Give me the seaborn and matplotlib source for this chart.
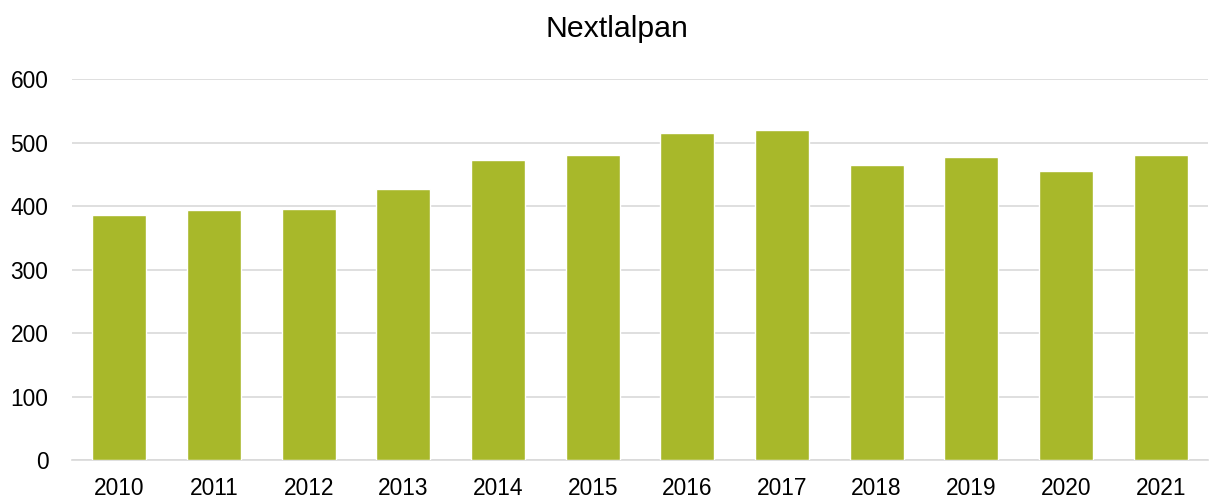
import matplotlib
matplotlib.use("Agg")
import matplotlib.pyplot as plt
import seaborn as sns
import pandas as pd

years = ["2010", "2011", "2012", "2013", "2014", "2015", "2016", "2017", "2018", "2019", "2020", "2021"]
values = [386, 393, 395, 427, 473, 480, 515, 520, 465, 477, 455, 480]
yticks = [0, 100, 200, 300, 400, 500, 600]
title = "Nextlalpan"

sns.set_theme(style="white")
plt.rcParams['font.family'] = ['Liberation Sans', 'DejaVu Sans']

df = pd.DataFrame({"year": years, "value": values})

fig = plt.figure(figsize=(12.11, 5.01), dpi=100)
ax = fig.add_axes([0.0595, 0.0818, 0.938, 0.7605])
sns.barplot(data=df, x="year", y="value", color="#a8b82a", saturation=1,
            width=0.57, ax=ax, zorder=3)
ax.set_xlim(-0.5, len(years) - 0.5)
ax.set_ylim(0, 600)
ax.set_yticks(yticks)
ax.set_yticklabels([str(t) for t in yticks])
ax.yaxis.grid(True, color="#d9d9d9", linewidth=1.2, zorder=0)
ax.set_axisbelow(True)
for s in ["top", "right", "left"]:
    ax.spines[s].set_visible(False)
ax.spines["bottom"].set_color("#d9d9d9")
ax.spines["bottom"].set_linewidth(1.2)
ax.tick_params(axis="both", length=0, labelsize=16.4, colors="#000000")
ax.tick_params(axis="y", pad=17)
ax.tick_params(axis="x", pad=12)
ax.set_xlabel("")
ax.set_ylabel("")
fig.text(0.5095, 0.926, title, ha="center", va="baseline", fontsize=21.8, color="#000000")

fig.savefig("out.png", dpi=100)
